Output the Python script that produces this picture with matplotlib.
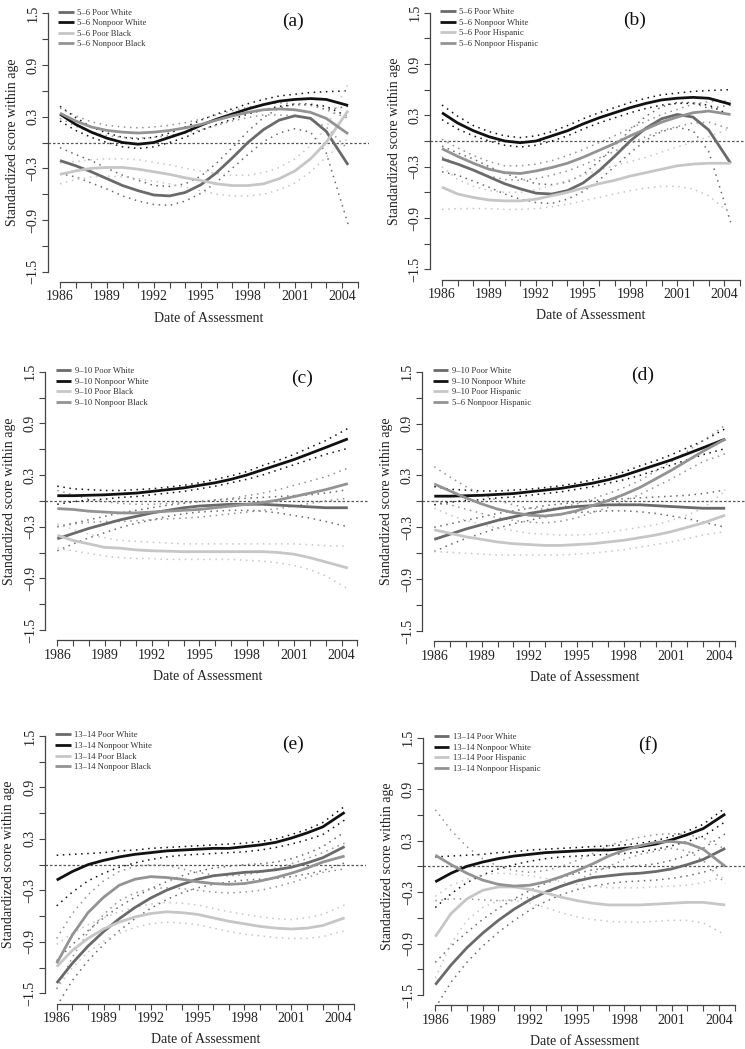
import matplotlib
matplotlib.use("Agg")
import matplotlib.pyplot as plt

plt.rcParams['font.family'] = ['Liberation Serif', 'DejaVu Serif']
plt.rcParams['axes.unicode_minus'] = True

# ---------------- data ----------------
years = [1986, 1987, 1988, 1989, 1990, 1991, 1992, 1993, 1994, 1995,
         1996, 1997, 1998, 1999, 2000, 2001, 2002, 2003, 2004.4]

xtick_pos = list(range(1986, 2006))
xtick_labels = ['1986', '', '', '1989', '', '', '1992', '', '', '1995', '', '',
                '1998', '', '', '2001', '', '', '2004', '']
ytick_pos = [-1.5, -1.2, -0.9, -0.6, -0.3, 0.0, 0.3, 0.6, 0.9, 1.2, 1.5]
ytick_labels = ['\u22121.5', '', '\u22120.9', '', '\u22120.3', '', '0.3', '', '0.9', '', '1.5']

# ages 5-6
a56_poor_white = [-0.21, -0.27, -0.34, -0.42, -0.50, -0.56, -0.61, -0.62, -0.58, -0.49, -0.35, -0.18, 0.00, 0.15, 0.26, 0.31, 0.28, 0.13, -0.26]
a56_poor_white_lo = [-0.36, -0.40, -0.47, -0.54, -0.62, -0.68, -0.72, -0.73, -0.68, -0.59, -0.46, -0.30, -0.14, 0.01, 0.11, 0.16, 0.12, -0.12, -0.95]
a56_poor_white_hi = [-0.06, -0.14, -0.21, -0.30, -0.38, -0.44, -0.50, -0.51, -0.48, -0.39, -0.24, -0.06, 0.13, 0.29, 0.40, 0.45, 0.45, 0.38, 0.42]

a56_nonpoor_white = [0.33, 0.21, 0.12, 0.05, 0.00, -0.02, 0.00, 0.06, 0.12, 0.20, 0.27, 0.33, 0.39, 0.44, 0.48, 0.50, 0.51, 0.50, 0.43]
a56_nonpoor_white_lo = [0.25, 0.14, 0.06, 0.00, -0.05, -0.07, -0.05, 0.00, 0.06, 0.14, 0.21, 0.27, 0.33, 0.38, 0.42, 0.44, 0.44, 0.42, 0.30]
a56_nonpoor_white_hi = [0.42, 0.29, 0.18, 0.11, 0.06, 0.04, 0.06, 0.11, 0.18, 0.26, 0.33, 0.39, 0.45, 0.50, 0.54, 0.56, 0.58, 0.59, 0.60]

a56_poor_black = [-0.37, -0.33, -0.30, -0.29, -0.29, -0.31, -0.34, -0.37, -0.41, -0.44, -0.48, -0.50, -0.50, -0.48, -0.42, -0.33, -0.19, 0.00, 0.37]
a56_poor_black_lo = [-0.48, -0.43, -0.40, -0.39, -0.40, -0.42, -0.45, -0.48, -0.52, -0.56, -0.60, -0.62, -0.62, -0.60, -0.55, -0.47, -0.34, -0.17, 0.05]
a56_poor_black_hi = [-0.24, -0.22, -0.20, -0.19, -0.19, -0.20, -0.23, -0.26, -0.30, -0.33, -0.36, -0.38, -0.38, -0.35, -0.29, -0.19, -0.04, 0.17, 0.68]

a56_nonpoor_black = [0.34, 0.25, 0.18, 0.14, 0.12, 0.11, 0.12, 0.14, 0.17, 0.21, 0.26, 0.31, 0.35, 0.38, 0.39, 0.38, 0.35, 0.28, 0.10]
a56_nonpoor_black_lo = [0.28, 0.19, 0.12, 0.08, 0.06, 0.05, 0.06, 0.08, 0.11, 0.15, 0.20, 0.25, 0.29, 0.32, 0.32, 0.31, 0.27, 0.18, -0.08]
a56_nonpoor_black_hi = [0.40, 0.31, 0.24, 0.20, 0.18, 0.17, 0.18, 0.20, 0.23, 0.27, 0.32, 0.37, 0.41, 0.44, 0.46, 0.45, 0.43, 0.38, 0.28]

a56_poor_hisp = [-0.54, -0.62, -0.66, -0.69, -0.70, -0.70, -0.68, -0.64, -0.60, -0.55, -0.50, -0.46, -0.41, -0.37, -0.33, -0.29, -0.27, -0.26, -0.26]
a56_poor_hisp_lo = [-0.80, -0.79, -0.79, -0.79, -0.80, -0.80, -0.79, -0.77, -0.74, -0.70, -0.66, -0.62, -0.58, -0.55, -0.53, -0.53, -0.56, -0.64, -0.85]
a56_poor_hisp_hi = [-0.30, -0.45, -0.53, -0.58, -0.60, -0.60, -0.57, -0.52, -0.46, -0.40, -0.34, -0.29, -0.24, -0.19, -0.13, -0.07, -0.01, 0.05, 0.15]

a56_nonpoor_hisp = [-0.09, -0.18, -0.26, -0.33, -0.37, -0.38, -0.35, -0.31, -0.26, -0.19, -0.11, -0.03, 0.06, 0.14, 0.22, 0.28, 0.33, 0.35, 0.31]
a56_nonpoor_hisp_lo = [-0.19, -0.27, -0.34, -0.41, -0.45, -0.46, -0.44, -0.40, -0.35, -0.28, -0.20, -0.12, -0.03, 0.05, 0.12, 0.17, 0.21, 0.22, 0.14]
a56_nonpoor_hisp_hi = [0.02, -0.08, -0.17, -0.24, -0.29, -0.29, -0.27, -0.23, -0.17, -0.10, -0.02, 0.06, 0.15, 0.23, 0.31, 0.37, 0.43, 0.46, 0.47]

# ages 9-10
a910_poor_white = [-0.44, -0.38, -0.32, -0.27, -0.22, -0.18, -0.14, -0.11, -0.08, -0.06, -0.05, -0.04, -0.04, -0.04, -0.05, -0.06, -0.07, -0.08, -0.08]
a910_poor_white_lo = [-0.58, -0.50, -0.43, -0.37, -0.31, -0.26, -0.22, -0.18, -0.15, -0.13, -0.12, -0.11, -0.11, -0.12, -0.14, -0.17, -0.20, -0.24, -0.30]
a910_poor_white_hi = [-0.30, -0.26, -0.22, -0.18, -0.14, -0.11, -0.08, -0.05, -0.03, -0.01, 0.01, 0.02, 0.03, 0.04, 0.05, 0.06, 0.07, 0.09, 0.13]

a910_nonpoor_white = [0.06, 0.06, 0.065, 0.07, 0.08, 0.09, 0.11, 0.13, 0.15, 0.18, 0.21, 0.25, 0.30, 0.36, 0.42, 0.48, 0.55, 0.62, 0.72]
a910_nonpoor_white_lo = [-0.04, -0.01, 0.01, 0.02, 0.04, 0.05, 0.07, 0.09, 0.11, 0.14, 0.17, 0.21, 0.25, 0.30, 0.36, 0.42, 0.48, 0.54, 0.61]
a910_nonpoor_white_hi = [0.17, 0.14, 0.13, 0.12, 0.12, 0.13, 0.14, 0.16, 0.18, 0.21, 0.25, 0.29, 0.34, 0.41, 0.47, 0.54, 0.62, 0.70, 0.84]

a910_poor_black = [-0.40, -0.46, -0.50, -0.54, -0.55, -0.57, -0.58, -0.585, -0.59, -0.59, -0.59, -0.59, -0.59, -0.59, -0.60, -0.62, -0.66, -0.71, -0.78]
a910_poor_black_lo = [-0.55, -0.58, -0.61, -0.64, -0.66, -0.67, -0.67, -0.68, -0.68, -0.68, -0.68, -0.68, -0.69, -0.70, -0.72, -0.75, -0.80, -0.87, -1.02]
a910_poor_black_hi = [-0.27, -0.33, -0.39, -0.43, -0.46, -0.47, -0.48, -0.49, -0.50, -0.50, -0.50, -0.50, -0.50, -0.50, -0.50, -0.50, -0.51, -0.52, -0.53]

a910_nonpoor_black = [-0.09, -0.10, -0.12, -0.13, -0.14, -0.14, -0.13, -0.12, -0.11, -0.10, -0.08, -0.06, -0.04, -0.02, 0.01, 0.05, 0.09, 0.13, 0.20]
a910_nonpoor_black_lo = [-0.30, -0.27, -0.25, -0.24, -0.24, -0.23, -0.22, -0.21, -0.20, -0.19, -0.17, -0.15, -0.13, -0.11, -0.09, -0.06, -0.03, 0.00, 0.03]
a910_nonpoor_black_hi = [0.12, 0.07, 0.02, -0.01, -0.03, -0.04, -0.04, -0.03, -0.02, -0.01, 0.01, 0.03, 0.06, 0.09, 0.13, 0.18, 0.23, 0.28, 0.38]

a910_poor_hisp = [-0.33, -0.37, -0.41, -0.44, -0.47, -0.49, -0.50, -0.51, -0.51, -0.50, -0.49, -0.47, -0.45, -0.42, -0.39, -0.35, -0.30, -0.25, -0.16]
a910_poor_hisp_lo = [-0.58, -0.59, -0.60, -0.61, -0.62, -0.62, -0.62, -0.62, -0.62, -0.61, -0.60, -0.58, -0.56, -0.53, -0.50, -0.47, -0.43, -0.39, -0.35]
a910_poor_hisp_hi = [-0.08, -0.16, -0.22, -0.27, -0.31, -0.34, -0.37, -0.38, -0.39, -0.39, -0.38, -0.36, -0.33, -0.30, -0.27, -0.22, -0.16, -0.08, 0.12]

a910_nonpoor_hisp = [0.20, 0.12, 0.04, -0.03, -0.09, -0.13, -0.16, -0.17, -0.15, -0.11, -0.05, 0.01, 0.08, 0.16, 0.26, 0.36, 0.47, 0.58, 0.72]
a910_nonpoor_hisp_lo = [0.00, -0.04, -0.09, -0.14, -0.19, -0.22, -0.24, -0.25, -0.23, -0.19, -0.13, -0.07, 0.00, 0.08, 0.17, 0.26, 0.36, 0.46, 0.55]
a910_nonpoor_hisp_hi = [0.40, 0.28, 0.17, 0.08, 0.01, -0.04, -0.08, -0.09, -0.07, -0.03, 0.03, 0.09, 0.16, 0.24, 0.35, 0.46, 0.58, 0.70, 0.88]

# ages 13-14
a1314_poor_white = [-1.38, -1.15, -0.95, -0.78, -0.63, -0.50, -0.39, -0.30, -0.23, -0.17, -0.13, -0.11, -0.09, -0.08, -0.06, -0.03, 0.02, 0.08, 0.21]
a1314_poor_white_lo = [-1.65, -1.35, -1.12, -0.93, -0.77, -0.63, -0.51, -0.41, -0.33, -0.27, -0.23, -0.20, -0.18, -0.17, -0.16, -0.14, -0.11, -0.07, 0.02]
a1314_poor_white_hi = [-1.12, -0.93, -0.77, -0.62, -0.49, -0.38, -0.28, -0.20, -0.13, -0.08, -0.04, -0.02, 0.00, 0.01, 0.03, 0.07, 0.13, 0.21, 0.38]

a1314_nonpoor_white = [-0.18, -0.08, 0.00, 0.05, 0.09, 0.12, 0.14, 0.16, 0.17, 0.18, 0.19, 0.19, 0.21, 0.23, 0.26, 0.31, 0.37, 0.44, 0.61]
a1314_nonpoor_white_lo = [-0.48, -0.32, -0.19, -0.10, -0.03, 0.02, 0.06, 0.09, 0.11, 0.12, 0.13, 0.14, 0.15, 0.17, 0.20, 0.24, 0.29, 0.35, 0.52]
a1314_nonpoor_white_hi = [0.11, 0.12, 0.13, 0.14, 0.16, 0.17, 0.19, 0.20, 0.21, 0.22, 0.23, 0.24, 0.25, 0.27, 0.30, 0.35, 0.41, 0.49, 0.68]

a1314_poor_black = [-1.19, -1.00, -0.86, -0.75, -0.67, -0.61, -0.57, -0.55, -0.56, -0.58, -0.62, -0.66, -0.69, -0.72, -0.74, -0.75, -0.74, -0.71, -0.62]
a1314_poor_black_lo = [-1.45, -1.20, -1.02, -0.89, -0.80, -0.73, -0.69, -0.67, -0.68, -0.70, -0.74, -0.78, -0.81, -0.83, -0.85, -0.86, -0.86, -0.84, -0.77]
a1314_poor_black_hi = [-0.93, -0.80, -0.70, -0.62, -0.55, -0.50, -0.46, -0.44, -0.45, -0.47, -0.51, -0.55, -0.58, -0.61, -0.63, -0.64, -0.62, -0.58, -0.47]

a1314_nonpoor_black = [-1.15, -0.82, -0.56, -0.38, -0.24, -0.17, -0.14, -0.15, -0.17, -0.20, -0.22, -0.23, -0.22, -0.19, -0.15, -0.10, -0.04, 0.03, 0.10]
a1314_nonpoor_black_lo = [-1.45, -1.08, -0.79, -0.58, -0.42, -0.33, -0.28, -0.27, -0.28, -0.30, -0.32, -0.33, -0.32, -0.30, -0.26, -0.21, -0.15, -0.09, -0.05]
a1314_nonpoor_black_hi = [-0.86, -0.57, -0.35, -0.19, -0.08, -0.02, 0.00, -0.01, -0.05, -0.09, -0.12, -0.13, -0.12, -0.09, -0.04, 0.01, 0.07, 0.14, 0.25]

a1314_poor_hisp = [-0.82, -0.55, -0.38, -0.28, -0.24, -0.24, -0.27, -0.31, -0.36, -0.40, -0.43, -0.45, -0.45, -0.45, -0.44, -0.43, -0.42, -0.42, -0.45]
a1314_poor_hisp_lo = [-1.30, -0.90, -0.63, -0.48, -0.40, -0.40, -0.43, -0.48, -0.54, -0.59, -0.62, -0.64, -0.65, -0.65, -0.64, -0.63, -0.63, -0.66, -0.80]
a1314_poor_hisp_hi = [-0.35, -0.22, -0.15, -0.10, -0.08, -0.09, -0.11, -0.14, -0.18, -0.21, -0.23, -0.25, -0.25, -0.25, -0.24, -0.23, -0.22, -0.19, -0.12]

a1314_nonpoor_hisp = [0.13, 0.02, -0.08, -0.16, -0.21, -0.23, -0.22, -0.18, -0.12, -0.05, 0.03, 0.12, 0.19, 0.24, 0.28, 0.29, 0.27, 0.20, 0.00]
a1314_nonpoor_hisp_lo = [-0.40, -0.38, -0.38, -0.39, -0.40, -0.39, -0.36, -0.31, -0.24, -0.16, -0.08, 0.00, 0.08, 0.14, 0.18, 0.21, 0.18, 0.07, -0.20]
a1314_nonpoor_hisp_hi = [0.66, 0.42, 0.23, 0.09, 0.00, -0.05, -0.07, -0.05, 0.00, 0.07, 0.15, 0.24, 0.30, 0.34, 0.37, 0.38, 0.37, 0.33, 0.20]

# legend labels per panel
labels_a = ['5\u20136 Poor White', '5\u20136 Nonpoor White', '5\u20136 Poor Black', '5\u20136 Nonpoor Black']
labels_b = ['5\u20136 Poor White', '5\u20136 Nonpoor White', '5\u20136 Poor Hispanic', '5\u20136 Nonpoor Hispanic']
labels_c = ['9\u201310 Poor White', '9\u201310 Nonpoor White', '9\u201310 Poor Black', '9\u201310 Nonpoor Black']
labels_d = ['9\u201310 Poor White', '9\u201310 Nonpoor White', '9\u201310 Poor Hispanic', '5\u20136 Nonpoor Hispanic']
labels_e = ['13\u201314 Poor White', '13\u201314 Nonpoor White', '13\u201314 Poor Black', '13\u201314 Nonpoor Black']
labels_f = ['13\u201314 Poor White', '13\u201314 Nonpoor White', '13\u201314 Poor Hispanic', '13\u201314 Nonpoor Hispanic']

panels = [
    ('(a)', labels_a, [(a56_poor_white, a56_poor_white_lo, a56_poor_white_hi),
                       (a56_nonpoor_white, a56_nonpoor_white_lo, a56_nonpoor_white_hi),
                       (a56_poor_black, a56_poor_black_lo, a56_poor_black_hi),
                       (a56_nonpoor_black, a56_nonpoor_black_lo, a56_nonpoor_black_hi)]),
    ('(b)', labels_b, [(a56_poor_white, a56_poor_white_lo, a56_poor_white_hi),
                       (a56_nonpoor_white, a56_nonpoor_white_lo, a56_nonpoor_white_hi),
                       (a56_poor_hisp, a56_poor_hisp_lo, a56_poor_hisp_hi),
                       (a56_nonpoor_hisp, a56_nonpoor_hisp_lo, a56_nonpoor_hisp_hi)]),
    ('(c)', labels_c, [(a910_poor_white, a910_poor_white_lo, a910_poor_white_hi),
                       (a910_nonpoor_white, a910_nonpoor_white_lo, a910_nonpoor_white_hi),
                       (a910_poor_black, a910_poor_black_lo, a910_poor_black_hi),
                       (a910_nonpoor_black, a910_nonpoor_black_lo, a910_nonpoor_black_hi)]),
    ('(d)', labels_d, [(a910_poor_white, a910_poor_white_lo, a910_poor_white_hi),
                       (a910_nonpoor_white, a910_nonpoor_white_lo, a910_nonpoor_white_hi),
                       (a910_poor_hisp, a910_poor_hisp_lo, a910_poor_hisp_hi),
                       (a910_nonpoor_hisp, a910_nonpoor_hisp_lo, a910_nonpoor_hisp_hi)]),
    ('(e)', labels_e, [(a1314_poor_white, a1314_poor_white_lo, a1314_poor_white_hi),
                       (a1314_nonpoor_white, a1314_nonpoor_white_lo, a1314_nonpoor_white_hi),
                       (a1314_poor_black, a1314_poor_black_lo, a1314_poor_black_hi),
                       (a1314_nonpoor_black, a1314_nonpoor_black_lo, a1314_nonpoor_black_hi)]),
    ('(f)', labels_f, [(a1314_poor_white, a1314_poor_white_lo, a1314_poor_white_hi),
                       (a1314_nonpoor_white, a1314_nonpoor_white_lo, a1314_nonpoor_white_hi),
                       (a1314_poor_hisp, a1314_poor_hisp_lo, a1314_poor_hisp_hi),
                       (a1314_nonpoor_hisp, a1314_nonpoor_hisp_lo, a1314_nonpoor_hisp_hi)]),
]

# ---------------- styling / layout ----------------
colors = ['#6a6a6a', '#111111', '#c6c6c6', '#939393']
W, H = 745, 1049
# pixel positions: x of 1986, x of 2005, y of +1.5, y of -1.5, letter x, letter y
layout = [
    (60.0, 357.5, 13.3, 271.7, 2000.9, 1.41),
    (442.0, 740.0, 12.7, 269.3, 1998.3, 1.41),
    (57.3, 357.3, 371.7, 630.0, 2001.5, 1.42),
    (434.3, 734.7, 371.7, 631.0, 1999.2, 1.46),
    (56.7, 354.0, 736.0, 993.3, 2001.1, 1.40),
    (435.3, 734.7, 737.7, 995.0, 1999.5, 1.41),
]

fig = plt.figure(figsize=(W / 100, H / 100), dpi=100)
fig.patch.set_facecolor('white')

for (letter, labels, series), (p86, p05, y15, ym15, lx, ly) in zip(panels, layout):
    sx = (p05 - p86) / 19.0
    sy = (ym15 - y15) / 3.0
    left = p86 - 0.76 * sx
    width = 20.52 * sx
    top = y15 - 0.12 * sy
    height = 3.24 * sy
    ax = fig.add_axes([left / W, 1 - (top + height) / H, width / W, height / H])
    ax.set_xlim(1985.24, 2005.76)
    ax.set_ylim(-1.62, 1.62)
    ax.set_facecolor('none')

    for sp in ('top', 'right'):
        ax.spines[sp].set_visible(False)
    ax.spines['left'].set_bounds(-1.5, 1.5)
    ax.spines['bottom'].set_bounds(1986, 2005)
    for sp in ('left', 'bottom'):
        ax.spines[sp].set_color('#444444')
        ax.spines[sp].set_linewidth(0.9)

    ax.axhline(0, color='#555555', lw=0.9, linestyle=(0, (2.0, 1.6)), zorder=1)

    handles = []
    for (c, lo, hi), col in zip(series, colors):
        ax.plot(years, lo, color=col, lw=1.1, linestyle=(0, (1, 3)), zorder=2)
        ax.plot(years, hi, color=col, lw=1.1, linestyle=(0, (1, 3)), zorder=2)
    for (c, lo, hi), col in zip(series, colors):
        ln, = ax.plot(years, c, color=col, lw=2.0, solid_capstyle='butt', zorder=3)
        handles.append(ln)

    ax.set_xticks(xtick_pos)
    ax.set_xticklabels(xtick_labels)
    ax.set_yticks(ytick_pos)
    ax.set_yticklabels(ytick_labels, rotation=90, va='center')
    ax.tick_params(direction='out', length=4, width=0.8, color='#444444',
                   labelsize=10, labelcolor='#222222', pad=2)

    leg = ax.legend(handles, labels, loc='upper left',
                    bbox_to_anchor=(1985.9, 1.555), bbox_transform=ax.transData,
                    frameon=False, fontsize=6.2, handlelength=1.8,
                    handletextpad=0.4, labelspacing=0.3, borderpad=0,
                    borderaxespad=0)
    for t in leg.get_texts():
        t.set_color('#333333')

    ax.text(lx, ly, letter, fontsize=14, ha='center', va='center', color='#111111')

    ax.annotate('Date of Assessment', xy=(0.5, 0), xycoords='axes fraction',
                xytext=(0, -36), textcoords='offset pixels', ha='center',
                va='center', fontsize=10, color='#222222')
    ax.annotate('Standardized score within age', xy=(0, 0.5), xycoords='axes fraction',
                xytext=(-36, 0), textcoords='offset pixels', ha='center',
                va='center', rotation=90, fontsize=10, color='#222222')

fig.savefig('out.png', dpi=100, facecolor='white')
